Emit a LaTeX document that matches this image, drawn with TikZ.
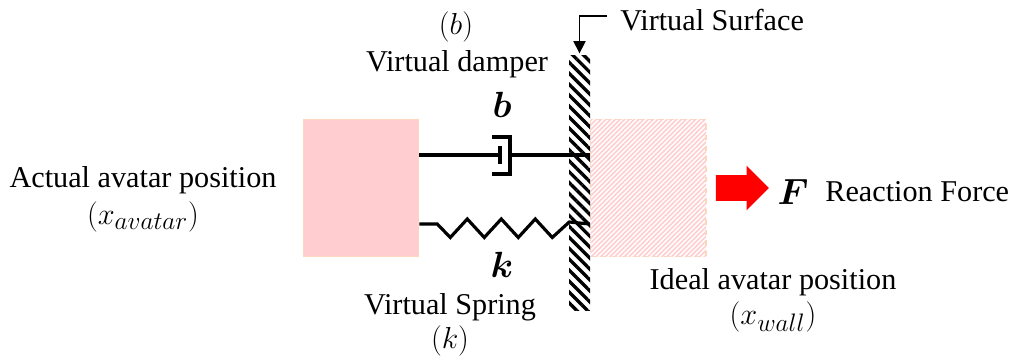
\documentclass[tikz,border=0pt]{standalone}
\usepackage{amsmath}
\usepackage{fontspec}
\setmainfont{Liberation Serif}
\usetikzlibrary{arrows.meta,patterns.meta,positioning,shapes.arrows}
\definecolor{peach}{RGB}{250,215,190}
\definecolor{rose}{RGB}{255,204,207}

\begin{document}
\begin{tikzpicture}[x=0.02cm,y=-0.02cm,
    body/.style={draw=peach, fill=rose, line width=0.6pt, inner sep=0pt, minimum width=2.31cm, minimum height=2.75cm},
    ghost/.style={draw=peach, dashed, line width=0.6pt, inner sep=0pt, minimum width=2.31cm, minimum height=2.75cm,
        pattern={Lines[angle=45,distance=1.9pt,line width=0.9pt]}, pattern color=rose},
    wall/.style={inner sep=0pt, minimum width=0.42cm, minimum height=5.12cm,
        pattern={Lines[angle=-45,distance=4.4pt,line width=1.9pt]}, pattern color=black},
    caption/.style={font=\fontsize{17.2}{20}\selectfont, inner sep=0pt, align=center},
    position/.style={font=\fontsize{19}{21}\selectfont, inner sep=0pt},
    symbol/.style={font=\fontsize{21}{23}\selectfont, inner sep=0pt},
    link/.style={line width=1.8pt, line join=miter},
    push/.style={single arrow, fill=red, inner xsep=0pt, inner ysep=0.25cm, minimum height=1.06cm,
        single arrow head extend=0.19cm, single arrow tip angle=90}
    ]
    % bodies and the surface between them
    \node[body] (actual) at (361,188) {};
    \node[ghost, right=3.41cm of actual] (ideal) {};
    \node[wall] (surface) at (579.5,183) {};
    
    % damper
    \coordinate (damperL) at (actual.east |- 0,155);
    \coordinate (damperR) at (ideal.west |- 0,155);
    \coordinate (cupM) at (510,155);
    \coordinate (pistonM) at (500,155);
    \draw[link] (damperL) -- (pistonM);
    \draw[link] (pistonM |- 0,146) -- (pistonM |- 0,164);
    \draw[link] (492,137) -- (cupM |- 0,137) -- (cupM |- 0,174) -- (492,174);
    \draw[link] (cupM) -- (damperR);
    
    % spring
    \coordinate (springL) at (actual.east |- 0,224);
    \coordinate (springR) at (ideal.west |- 0,224);
    \draw[link] (springL) -- ++(18,0) -- ++(13,13.5)
        \foreach \i in {1,2,3} { -- ++(17,-18.5) -- ++(17,18.5) }
        -- ++(17,-15.5) -- (springR);
    
    % pointer to the surface
    \node[caption, anchor=west] (surfacetext) at (620,20) {Virtual Surface};
    \coordinate (pointerS) at (607,16);
    \draw[line width=0.7pt, -{Triangle[length=7pt,width=7pt]}] (pointerS) -| (surface.north);
    
    % force
    \node[push] (force) at (736,188) {};
    \node[symbol] (forcesym) at (793,192) {$\boldsymbol{F}$};
    \node[caption, anchor=west] (forcetext) at (825,192) {Reaction Force};
    
    % labels
    \node[caption] (actualtext) at (143,180) {Actual avatar position};
    \node[position] (actualpos) at (143,217) {$(x_{avatar})$};
    \node[caption] (dampertext) at (457,64) {Virtual damper};
    \node[position] (dampersym) at (456,27) {$(b)$};
    \node[symbol] (bsym) at (502,105) {$\boldsymbol{b}$};
    \node[symbol] (ksym) at (502,265) {$\boldsymbol{k}$};
    \node[caption] (springtext) at (450,307) {Virtual Spring};
    \node[position] (springsym) at (450,341) {$(k)$};
    \node[caption] (idealtext) at (773,282) {Ideal avatar position};
    \node[position] (idealpos) at (773,317) {$(x_{wall})$};
    
    \useasboundingbox (0,0) rectangle (1013,357);
\end{tikzpicture}
\end{document}
